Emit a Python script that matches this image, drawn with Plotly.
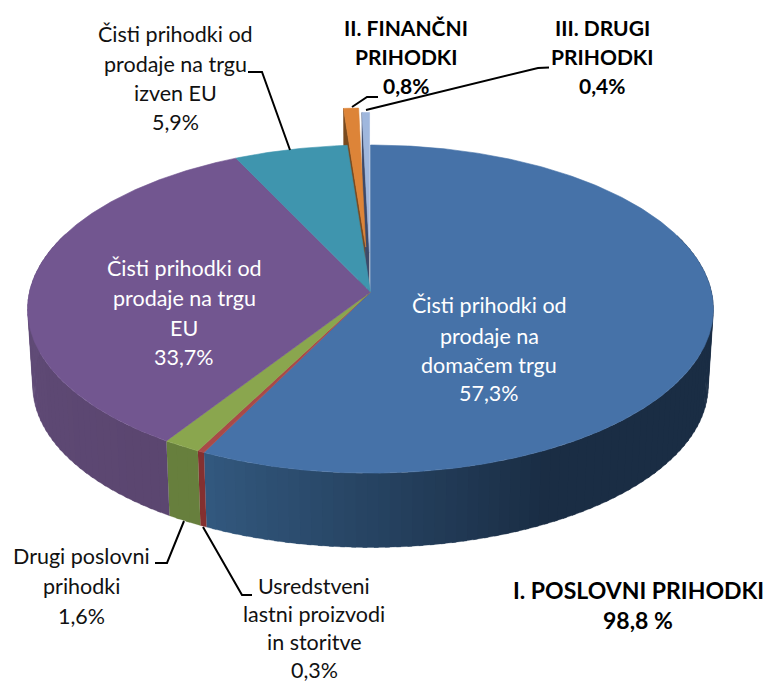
import numpy as np
import plotly.graph_objects as go

# ---- data (shares in %, clockwise from 12 o'clock)
categories = ["Čisti prihodki od prodaje na domačem trgu", "Usredstveni lastni proizvodi in storitve",
              "Drugi poslovni prihodki", "Čisti prihodki od prodaje na trgu EU",
              "Čisti prihodki od prodaje na trgu izven EU", "II. FINANČNI PRIHODKI", "III. DRUGI PRIHODKI"]
shares = [57.3, 0.3, 1.6, 33.7, 5.9, 0.8, 0.4]
explode = [0, 0, 0, 0, 0, 0.285, 0.25]
top_colors = ["#4672a8", "#a94a48", "#8aa64e", "#725690", "#3f95ae", "#dd8438", "#9fb7dd"]
wall_right = ["#1a2d44", "#843030", "#677f3d", "#5b4670", "#2c6a7c", "#7a4a1e", "#3d4a6a"]
wall_left = ["#33597f", "#843030", "#677f3d", "#66517f", "#2c6a7c", "#7a4a1e", "#3d4a6a"]

# ---- projection of the tilted disc
CX, CY, RX, RY, K = 370.5, 292.0, 341.0, 162.3, 0.104
DEPTH, SHRINK = 77.0, 0.985


def proj(u, v, low=False):
    w = 1 + K * v
    s = SHRINK if low else 1.0
    return CX + RX * s * u / w, CY + (DEPTH if low else 0) - RY * s * v / w


def hex2rgb(h):
    return np.array([int(h[i:i + 2], 16) for i in (1, 3, 5)], float)


def mix(a, b, t):
    c = hex2rgb(a) * (1 - t) + hex2rgb(b) * t
    return "rgb(%d,%d,%d)" % tuple(c)


fig = go.Figure()


def poly(x, y, color, lw=0.6):
    fig.add_trace(go.Scatter(x=x, y=y, mode="lines", fill="toself", fillcolor=color,
                             line=dict(width=lw, color=color), hoverinfo="skip", showlegend=False))


edges = np.concatenate([[0], np.cumsum(shares)]) / sum(shares) * 2 * np.pi

# outer side wall, in narrow strips so that it can carry a gradient
for i in range(5):
    a0, a1 = edges[i], edges[i + 1]
    n = max(1, int((a1 - a0) / 0.03))
    steps = np.linspace(a0, a1, n + 1)
    for s0, s1 in zip(steps[:-1], steps[1:]):
        mid = (s0 + s1) / 2
        if np.cos(mid) > 0.35:
            continue
        if i == 0:
            t = np.clip((mid - 2.65) / (a1 - 2.65), 0, 1)
        else:
            t = (mid - a0) / (a1 - a0)
        color = mix(wall_right[i], wall_left[i], t)
        aa = np.array([s0, min(s1 + 0.012, a1)])
        x_hi, y_hi = proj(np.sin(aa), np.cos(aa))
        x_lo, y_lo = proj(np.sin(aa), np.cos(aa), low=True)
        poly(np.r_[x_hi, x_lo[::-1]], np.r_[y_hi, y_lo[::-1]], color, lw=0.3)


def offset(i):
    mid = (edges[i] + edges[i + 1]) / 2
    return explode[i] * np.sin(mid), explode[i] * np.cos(mid)


# cut faces of the two pulled-out slices
for i in (5, 6):
    ou, ov = offset(i)
    a = edges[i]
    xa, ya = proj(ou, ov)
    xr, yr = proj(ou + np.sin(a), ov + np.cos(a))
    xal, yal = proj(ou, ov, low=True)
    xrl, yrl = proj(ou + np.sin(a), ov + np.cos(a), low=True)
    poly([xa, xr, xrl, xal], [ya, yr, yrl, yal], wall_right[i])

# top faces
for i in range(len(shares)):
    aa = np.linspace(edges[i], edges[i + 1], max(3, int((edges[i + 1] - edges[i]) / 0.01)))
    ou, ov = offset(i)
    u = np.r_[ou, ou + np.sin(aa), ou]
    v = np.r_[ov, ov + np.cos(aa), ov]
    x, y = proj(u, v)
    poly(x, y, top_colors[i])

# ---- labels
FONT = "Lato"
labels = [
    (184, [268, 298, 328, 357], ["Čisti prihodki od", "prodaje na trgu", "EU", "33,7%"], "white", False, 21.5),
    (489, [305, 336, 365, 393], ["Čisti prihodki od", "prodaje na", "domačem trgu", "57,3%"], "white", False, 21.5),
    (175, [34, 64, 93, 122], ["Čisti prihodki od", "prodaje na trgu", "izven EU", "5,9%"], "#111111", False, 21.5),
    (406, [27, 56, 85], ["II. FINANČNI", "PRIHODKI", "0,8%"], "#000000", True, 21),
    (602, [27, 56, 85], ["III. DRUGI", "PRIHODKI", "0,4%"], "#000000", True, 21),
    (81, [556, 586, 616], ["Drugi poslovni", "prihodki", "1,6%"], "#111111", False, 21.5),
    (314, [586, 614, 642, 670], ["Usredstveni", "lastni proizvodi", "in storitve", "0,3%"], "#111111", False, 21.5),
    (638, [590, 620], ["I. POSLOVNI PRIHODKI", "98,8 %"], "#000000", True, 23),
]
for cx, ys, lines, col, bold, size in labels:
    for yy, line in zip(ys, lines):
        fig.add_annotation(x=cx, y=yy, text="<b>%s</b>" % line if bold else line, showarrow=False,
                           xanchor="center", yanchor="middle",
                           font=dict(family=FONT, size=size, color=col))

# ---- leader lines
leaders = [
    ([290, 262, 248], [150, 72, 72]),
    ([352, 367, 378], [107, 97, 97]),
    ([366, 538, 549], [110, 68, 67.5]),
    ([184, 167, 155], [521, 563, 563]),
    ([203, 242, 252], [527, 595, 595]),
]
for lx, ly in leaders:
    fig.add_trace(go.Scatter(x=lx, y=ly, mode="lines", line=dict(color="black", width=2),
                             hoverinfo="skip", showlegend=False))

fig.update_layout(
    width=767, height=685, margin=dict(l=0, r=0, t=0, b=0),
    paper_bgcolor="white", plot_bgcolor="white", showlegend=False,
    xaxis=dict(range=[0, 767], visible=False, fixedrange=True),
    yaxis=dict(range=[685, 0], visible=False, fixedrange=True),
)
fig.write_html("out.html", config={"displayModeBar": False},
               post_script="document.body.style.margin='0';document.body.style.overflow='hidden';")
